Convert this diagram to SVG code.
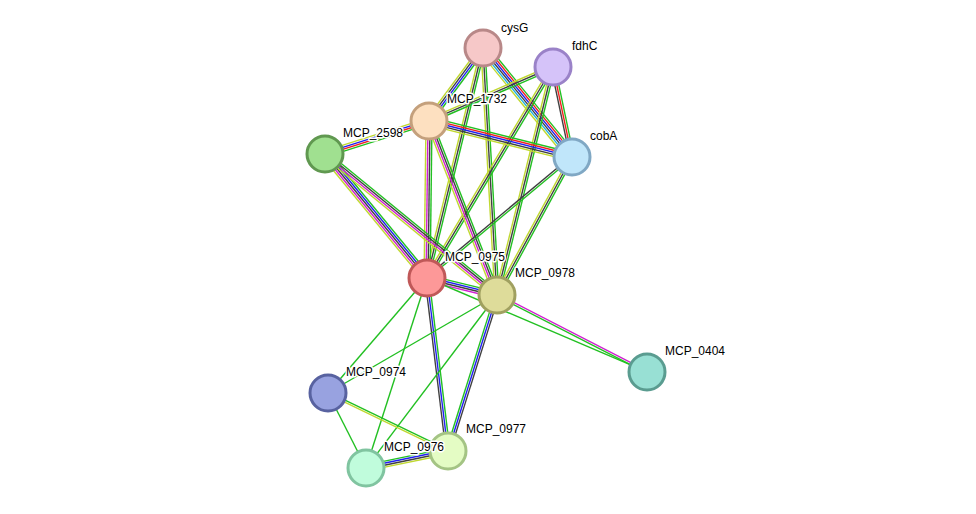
<svg xmlns="http://www.w3.org/2000/svg" width="976" height="514" viewBox="0 0 976 514">
<style>
line{stroke-width:1.4}
.g{stroke:#22c022}.r{stroke:#f02020}.b{stroke:#2020f0}.k{stroke:#404040}.m{stroke:#d020d0}.c{stroke:#20b0e0}.y{stroke:#c0d830}
circle{stroke-width:3}
text{font-family:"Liberation Sans",Arial,sans-serif;font-size:12px;fill:#000;stroke:#fff;stroke-width:3;paint-order:stroke;stroke-linejoin:round}
</style>
<rect width="976" height="514" fill="#fff"/>
<g id="edges">
<g transform="translate(483 48) rotate(126.5)"><line class="g" x1="0" y1="-3" x2="90.8" y2="-3"/><line class="b" x1="0" y1="-1" x2="90.8" y2="-1"/><line class="k" x1="0" y1="1" x2="90.8" y2="1"/><line class="y" x1="0" y1="3" x2="90.8" y2="3"/></g>
<g transform="translate(483 48) rotate(50.8)"><line class="g" x1="0" y1="-5" x2="140.7" y2="-5"/><line class="r" x1="0" y1="-3" x2="140.7" y2="-3"/><line class="b" x1="0" y1="-1" x2="140.7" y2="-1"/><line class="k" x1="0" y1="1" x2="140.7" y2="1"/><line class="c" x1="0" y1="3" x2="140.7" y2="3"/><line class="y" x1="0" y1="5" x2="140.7" y2="5"/></g>
<g transform="translate(483 48) rotate(103.7)"><line class="g" x1="0" y1="-2" x2="236.7" y2="-2"/><line class="k" x1="0" y1="0" x2="236.7" y2="0"/><line class="y" x1="0" y1="2" x2="236.7" y2="2"/></g>
<g transform="translate(483 48) rotate(86.8)"><line class="g" x1="0" y1="-2" x2="247.4" y2="-2"/><line class="k" x1="0" y1="0" x2="247.4" y2="0"/><line class="y" x1="0" y1="2" x2="247.4" y2="2"/></g>
<g transform="translate(553 67) rotate(156.5)"><line class="g" x1="0" y1="-2" x2="135.2" y2="-2"/><line class="k" x1="0" y1="0" x2="135.2" y2="0"/><line class="y" x1="0" y1="2" x2="135.2" y2="2"/></g>
<g transform="translate(553 67) rotate(78.1)"><line class="g" x1="0" y1="-2" x2="92" y2="-2"/><line class="r" x1="0" y1="0" x2="92" y2="0"/><line class="k" x1="0" y1="2" x2="92" y2="2"/></g>
<g transform="translate(553 67) rotate(120.8)"><line class="g" x1="0" y1="-2" x2="245.8" y2="-2"/><line class="k" x1="0" y1="0" x2="245.8" y2="0"/><line class="y" x1="0" y1="2" x2="245.8" y2="2"/></g>
<g transform="translate(553 67) rotate(103.8)"><line class="g" x1="0" y1="-2" x2="234.8" y2="-2"/><line class="k" x1="0" y1="0" x2="234.8" y2="0"/><line class="y" x1="0" y1="2" x2="234.8" y2="2"/></g>
<g transform="translate(325 154) rotate(-17.6)"><line class="y" x1="0" y1="-3" x2="109.1" y2="-3"/><line class="b" x1="0" y1="-1" x2="109.1" y2="-1"/><line class="r" x1="0" y1="1" x2="109.1" y2="1"/><line class="g" x1="0" y1="3" x2="109.1" y2="3"/></g>
<g transform="translate(429 121) rotate(14.1)"><line class="g" x1="0" y1="-4" x2="147.5" y2="-4"/><line class="r" x1="0" y1="-2" x2="147.5" y2="-2"/><line class="b" x1="0" y1="0" x2="147.5" y2="0"/><line class="k" x1="0" y1="2" x2="147.5" y2="2"/><line class="y" x1="0" y1="4" x2="147.5" y2="4"/></g>
<g transform="translate(429 121) rotate(90.7)"><line class="g" x1="0" y1="-3" x2="157" y2="-3"/><line class="k" x1="0" y1="-1" x2="157" y2="-1"/><line class="m" x1="0" y1="1" x2="157" y2="1"/><line class="y" x1="0" y1="3" x2="157" y2="3"/></g>
<g transform="translate(429 121) rotate(68.7)"><line class="g" x1="0" y1="-3" x2="186.8" y2="-3"/><line class="k" x1="0" y1="-1" x2="186.8" y2="-1"/><line class="m" x1="0" y1="1" x2="186.8" y2="1"/><line class="y" x1="0" y1="3" x2="186.8" y2="3"/></g>
<g transform="translate(572 157) rotate(140.2)"><line class="g" x1="0" y1="-1" x2="188.9" y2="-1"/><line class="k" x1="0" y1="1" x2="188.9" y2="1"/></g>
<g transform="translate(572 157) rotate(118.5)"><line class="g" x1="0" y1="-2" x2="157.1" y2="-2"/><line class="k" x1="0" y1="0" x2="157.1" y2="0"/><line class="y" x1="0" y1="2" x2="157.1" y2="2"/></g>
<g transform="translate(325 154) rotate(50.6)"><line class="g" x1="0" y1="-4" x2="160.6" y2="-4"/><line class="b" x1="0" y1="-2" x2="160.6" y2="-2"/><line class="k" x1="0" y1="0" x2="160.6" y2="0"/><line class="m" x1="0" y1="2" x2="160.6" y2="2"/><line class="y" x1="0" y1="4" x2="160.6" y2="4"/></g>
<g transform="translate(325 154) rotate(39.3)"><line class="g" x1="0" y1="-3" x2="222.4" y2="-3"/><line class="k" x1="0" y1="-1" x2="222.4" y2="-1"/><line class="m" x1="0" y1="1" x2="222.4" y2="1"/><line class="y" x1="0" y1="3" x2="222.4" y2="3"/></g>
<g transform="translate(427 278) rotate(13.7)"><line class="g" x1="0" y1="-3" x2="72" y2="-3"/><line class="b" x1="0" y1="-1" x2="72" y2="-1"/><line class="k" x1="0" y1="1" x2="72" y2="1"/><line class="m" x1="0" y1="3" x2="72" y2="3"/></g>
<g transform="translate(427 278) rotate(130.7)"><line class="g" x1="0" y1="0" x2="151.7" y2="0"/></g>
<g transform="translate(427 278) rotate(107.8)"><line class="g" x1="0" y1="0" x2="199.6" y2="0"/></g>
<g transform="translate(427 278) rotate(83.1)"><line class="g" x1="0" y1="-2" x2="174.3" y2="-2"/><line class="b" x1="0" y1="0" x2="174.3" y2="0"/><line class="k" x1="0" y1="2" x2="174.3" y2="2"/></g>
<g transform="translate(497 295) rotate(27.2)"><line class="m" x1="0" y1="-1" x2="168.6" y2="-1"/><line class="g" x1="0" y1="1" x2="168.6" y2="1"/></g>
<g transform="translate(427 278) rotate(23.1)"><line class="g" x1="0" y1="0" x2="239.2" y2="0"/></g>
<g transform="translate(497 295) rotate(149.9)"><line class="g" x1="0" y1="0" x2="195.4" y2="0"/></g>
<g transform="translate(497 295) rotate(127.1)"><line class="g" x1="0" y1="0" x2="217" y2="0"/></g>
<g transform="translate(497 295) rotate(107.4)"><line class="k" x1="0" y1="-2" x2="163.5" y2="-2"/><line class="b" x1="0" y1="0" x2="163.5" y2="0"/><line class="g" x1="0" y1="2" x2="163.5" y2="2"/></g>
<g transform="translate(328 393) rotate(25.8)"><line class="g" x1="0" y1="-1" x2="133.3" y2="-1"/><line class="y" x1="0" y1="1" x2="133.3" y2="1"/></g>
<g transform="translate(328 393) rotate(63.1)"><line class="g" x1="0" y1="0" x2="84.1" y2="0"/></g>
<g transform="translate(366 468) rotate(-11.7)"><line class="g" x1="0" y1="-3" x2="83.7" y2="-3"/><line class="b" x1="0" y1="-1" x2="83.7" y2="-1"/><line class="k" x1="0" y1="1" x2="83.7" y2="1"/><line class="y" x1="0" y1="3" x2="83.7" y2="3"/></g>
</g>
<g id="cysG"><circle cx="483" cy="48" r="18" fill="#f6c8c8" stroke="#b88888"/><text x="501" y="32">cysG</text></g>
<g id="fdhC"><circle cx="553" cy="67" r="18" fill="#d5c3f9" stroke="#9a82c8"/><text x="572" y="50">fdhC</text></g>
<g id="MCP_1732"><circle cx="429" cy="121" r="18" fill="#fde0c0" stroke="#c4a07c"/><text x="447" y="103">MCP_1732</text></g>
<g id="MCP_2598"><circle cx="325" cy="154" r="18" fill="#a0e090" stroke="#609850"/><text x="343" y="137">MCP_2598</text></g>
<g id="cobA"><circle cx="572" cy="157" r="18" fill="#c0e6fa" stroke="#80a8c4"/><text x="590" y="140">cobA</text></g>
<g id="MCP_0975"><circle cx="427" cy="278" r="18" fill="#fd9898" stroke="#c05858"/><text x="445" y="261">MCP_0975</text></g>
<g id="MCP_0978"><circle cx="497" cy="295" r="18" fill="#dedc9a" stroke="#a0a060"/><text x="515" y="277">MCP_0978</text></g>
<g id="MCP_0404"><circle cx="647" cy="372" r="18" fill="#98e0d4" stroke="#5a9c90"/><text x="665" y="355">MCP_0404</text></g>
<g id="MCP_0974"><circle cx="328" cy="393" r="18" fill="#98a2e0" stroke="#5862a0"/><text x="346" y="376">MCP_0974</text></g>
<g id="MCP_0977"><circle cx="448" cy="451" r="18" fill="#e4fcc4" stroke="#a4c484"/><text x="466" y="433">MCP_0977</text></g>
<g id="MCP_0976"><circle cx="366" cy="468" r="18" fill="#c0fcdc" stroke="#80c4a0"/><text x="384" y="451">MCP_0976</text></g>
</svg>
